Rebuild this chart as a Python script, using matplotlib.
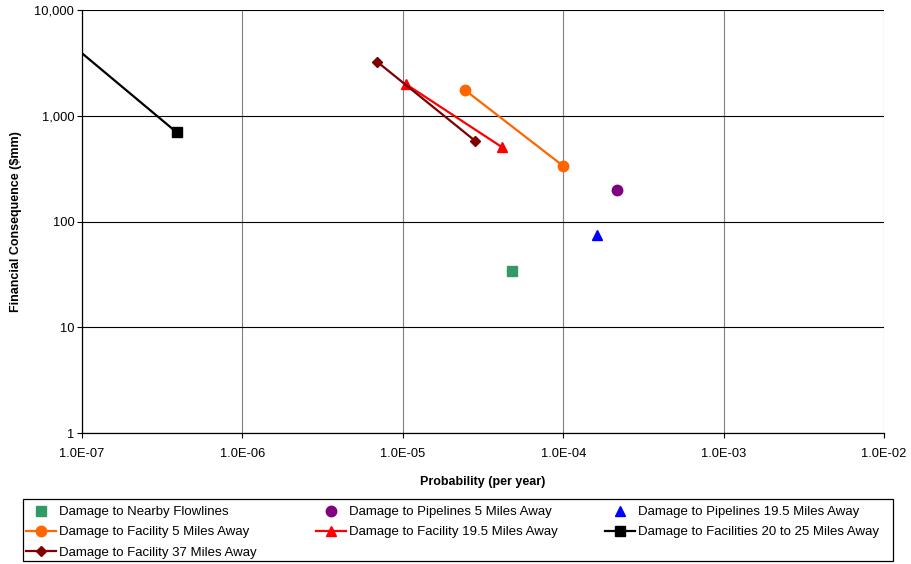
import numpy as np
import matplotlib
matplotlib.use("Agg")
import matplotlib.pyplot as plt
from matplotlib.patches import Rectangle
from matplotlib.ticker import FixedLocator, FuncFormatter, NullLocator

plt.rcParams["font.family"] = ["Liberation Sans", "DejaVu Sans"]

# ------------------------------------------------------------
# data (probability per year, $mm)
# ------------------------------------------------------------
flowlines_x = [4.8e-5]
flowlines_y = [34]

pipe5_x = [2.17e-4]
pipe5_y = [198]

pipe195_x = [1.62e-4]
pipe195_y = [75]

fac5_x = [2.44e-5, 1.0e-4]
fac5_y = [1750, 335]

fac195_x = [1.05e-5, 4.15e-5]
fac195_y = [1980, 505]

fac2025_x = [1.0e-7, 3.9e-7]
fac2025_y = [3900, 695]

fac37_x = [6.9e-6, 2.82e-5]
fac37_y = [3250, 580]

x_ticks = [1e-7, 1e-6, 1e-5, 1e-4, 1e-3, 1e-2]
y_ticks = [1, 10, 100, 1000, 10000]

W, H = 911, 564
fig = plt.figure(figsize=(W / 100, H / 100), dpi=100)
ax = fig.add_axes([82 / W, 1 - 433 / H, (884 - 82) / W, (433 - 10) / H])

ax.set_xscale("log")
ax.set_yscale("log")
ax.set_xlim(1e-7, 1e-2)
ax.set_ylim(1, 10000)

h_flow, = ax.plot(flowlines_x, flowlines_y, ls="none", marker="s", ms=7,
                  color="#339966", label="Damage to Nearby Flowlines")
h_p5, = ax.plot(pipe5_x, pipe5_y, ls="none", marker="o", ms=7.5,
                color="#800080", label="Damage to Pipelines 5 Miles Away")
h_p195, = ax.plot(pipe195_x, pipe195_y, ls="none", marker="^", ms=7.5,
                  color="#0000FF", label="Damage to Pipelines 19.5 Miles Away")
h_f5, = ax.plot(fac5_x, fac5_y, lw=1.6, marker="o", ms=7.5,
                color="#FF6600", label="Damage to Facility 5 Miles Away")
h_f195, = ax.plot(fac195_x, fac195_y, lw=1.6, marker="^", ms=7.5,
                  color="#FF0000", label="Damage to Facility 19.5 Miles Away")
h_f2025, = ax.plot(fac2025_x, fac2025_y, lw=1.6, marker="s", ms=6.5, markevery=[1],
                   color="black", label="Damage to Facilities 20 to 25 Miles Away")
h_f37, = ax.plot(fac37_x, fac37_y, lw=1.6, marker="D", ms=5,
                 color="#800000", label="Damage to Facility 37 Miles Away")

# grid: grey verticals, black horizontals
for xv in x_ticks:
    ax.axvline(xv, color="#808080", lw=0.8, zorder=0)
for yv in y_ticks:
    ax.axhline(yv, color="black", lw=0.8, zorder=0)

for side in ["top", "right"]:
    ax.spines[side].set_visible(False)
ax.spines["left"].set_linewidth(0.9)
ax.spines["bottom"].set_linewidth(0.9)

ax.xaxis.set_major_locator(FixedLocator(x_ticks))
ax.xaxis.set_minor_locator(NullLocator())
ax.yaxis.set_major_locator(FixedLocator(y_ticks))
ax.yaxis.set_minor_locator(NullLocator())
ax.xaxis.set_major_formatter(FuncFormatter(lambda v, p: f"{v:.1E}"))
ax.yaxis.set_major_formatter(FuncFormatter(lambda v, p: f"{v:,.0f}"))
ax.tick_params(axis="both", direction="out", length=3.5, width=0.8, labelsize=9.3)
ax.tick_params(axis="x", pad=7)
ax.tick_params(axis="y", pad=2)

ax.set_xlabel("Probability (per year)", fontsize=9, fontweight="bold", labelpad=12)
ax.set_ylabel(r"Financial Consequence (\$mm)", fontsize=9, fontweight="bold", labelpad=9)

# legend: three equal-width columns inside one frame
columns = [[h_flow, h_f5, h_f37], [h_p5, h_f195], [h_p195, h_f2025]]
col_left = [26, 316, 605]
for hs, xl in zip(columns, col_left):
    leg = fig.legend(handles=hs, loc="upper left",
                     bbox_to_anchor=(xl / W, 1 - 506 / H),
                     fontsize=9.5, frameon=False,
                     handlelength=2.3, handletextpad=0.2,
                     labelspacing=0.6, borderpad=0, borderaxespad=0)
fig.add_artist(Rectangle((23 / W, 1 - 561 / H), (893 - 23) / W, (561 - 499) / H,
                         transform=fig.transFigure, fill=False,
                         edgecolor="black", lw=0.9))

fig.savefig("out.png", dpi=100)
